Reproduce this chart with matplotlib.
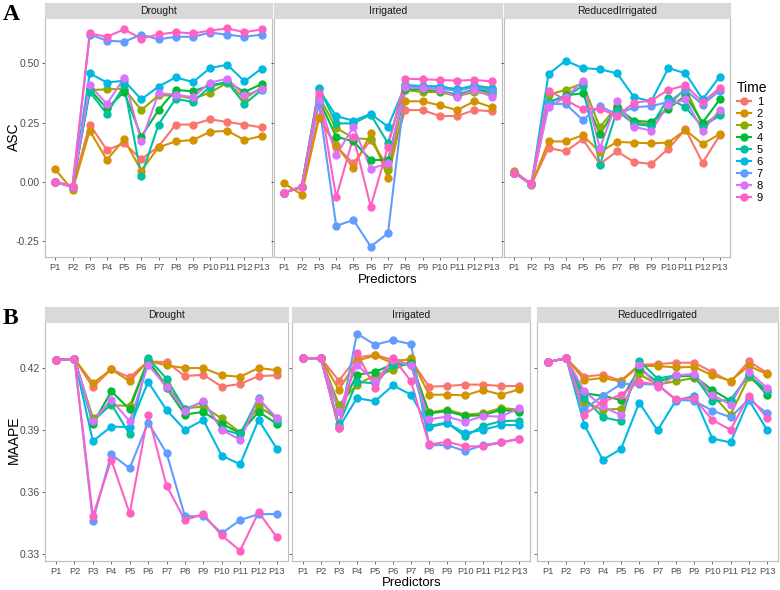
import numpy as np
import matplotlib
matplotlib.use("Agg")
import matplotlib.pyplot as plt
from matplotlib.lines import Line2D

plt.rcParams['font.family'] = ['Liberation Sans', 'DejaVu Sans']

predictors = [f"P{i}" for i in range(1, 14)]
times = ["1", "2", "3", "4", "5", "6", "7", "8", "9"]
facets = ["Drought", "Irrigated", "ReducedIrrigated"]
colors = ["#F8766D", "#D39200", "#93AA00", "#00BA38", "#00C19F",
          "#00B9E3", "#619CFF", "#DB72FB", "#FF61C3"]

# ASC values, rows = Time 1..9, columns = P1..P13
asc_drought = [
    [0.00, -0.02, 0.242, 0.135, 0.163, 0.096, 0.149, 0.242, 0.242, 0.264, 0.253, 0.242, 0.230],
    [0.053, -0.034, 0.216, 0.093, 0.180, 0.048, 0.146, 0.171, 0.177, 0.211, 0.216, 0.177, 0.194],
    [0.00, -0.02, 0.388, 0.390, 0.393, 0.303, 0.365, 0.365, 0.351, 0.376, 0.419, 0.351, 0.399],
    [0.00, -0.02, 0.390, 0.310, 0.379, 0.191, 0.303, 0.388, 0.382, 0.407, 0.421, 0.379, 0.413],
    [0.00, -0.02, 0.380, 0.287, 0.407, 0.025, 0.242, 0.351, 0.337, 0.402, 0.421, 0.329, 0.388],
    [0.00, -0.02, 0.458, 0.419, 0.427, 0.348, 0.402, 0.441, 0.421, 0.480, 0.494, 0.424, 0.478],
    [0.00, -0.02, 0.621, 0.596, 0.591, 0.621, 0.601, 0.612, 0.612, 0.629, 0.621, 0.612, 0.621],
    [0.00, -0.02, 0.407, 0.329, 0.438, 0.171, 0.374, 0.368, 0.357, 0.419, 0.435, 0.365, 0.390],
    [0.00, -0.015, 0.626, 0.612, 0.643, 0.604, 0.622, 0.631, 0.626, 0.638, 0.647, 0.631, 0.643],
]
asc_irrigated = [
    [-0.045, -0.02, 0.275, 0.149, 0.079, 0.177, 0.065, 0.303, 0.303, 0.278, 0.278, 0.303, 0.298],
    [-0.006, -0.053, 0.268, 0.154, 0.059, 0.205, 0.017, 0.340, 0.340, 0.323, 0.303, 0.340, 0.315],
    [-0.045, -0.02, 0.360, 0.228, 0.185, 0.180, 0.051, 0.388, 0.379, 0.379, 0.362, 0.379, 0.371],
    [-0.045, -0.02, 0.346, 0.191, 0.171, 0.093, 0.093, 0.390, 0.390, 0.385, 0.368, 0.390, 0.379],
    [-0.045, -0.02, 0.396, 0.247, 0.247, 0.284, 0.163, 0.407, 0.404, 0.402, 0.390, 0.407, 0.396],
    [-0.045, -0.02, 0.390, 0.278, 0.258, 0.287, 0.233, 0.407, 0.404, 0.402, 0.390, 0.404, 0.390],
    [-0.045, -0.02, 0.331, -0.185, -0.160, -0.272, -0.216, 0.399, 0.396, 0.393, 0.385, 0.399, 0.385],
    [-0.045, -0.02, 0.346, 0.112, 0.233, 0.056, 0.079, 0.399, 0.396, 0.388, 0.360, 0.388, 0.360],
    [-0.045, -0.02, 0.374, -0.065, 0.191, -0.104, 0.149, 0.435, 0.433, 0.430, 0.427, 0.430, 0.424],
]
asc_reduced = [
    [0.040, -0.010, 0.143, 0.129, 0.180, 0.076, 0.129, 0.084, 0.076, 0.140, 0.222, 0.081, 0.197],
    [0.048, -0.014, 0.171, 0.171, 0.197, 0.126, 0.169, 0.166, 0.163, 0.166, 0.219, 0.160, 0.202],
    [0.040, -0.010, 0.368, 0.388, 0.416, 0.230, 0.320, 0.250, 0.242, 0.320, 0.396, 0.239, 0.289],
    [0.040, -0.010, 0.334, 0.365, 0.374, 0.202, 0.315, 0.258, 0.253, 0.309, 0.365, 0.250, 0.348],
    [0.040, -0.010, 0.338, 0.360, 0.404, 0.073, 0.301, 0.244, 0.236, 0.354, 0.315, 0.233, 0.281],
    [0.040, -0.010, 0.455, 0.511, 0.480, 0.475, 0.458, 0.357, 0.340, 0.480, 0.458, 0.348, 0.444],
    [0.040, -0.010, 0.329, 0.329, 0.261, 0.320, 0.284, 0.315, 0.320, 0.337, 0.388, 0.326, 0.385],
    [0.040, -0.010, 0.317, 0.357, 0.424, 0.143, 0.340, 0.233, 0.216, 0.326, 0.348, 0.216, 0.303],
    [0.039, -0.005, 0.385, 0.346, 0.306, 0.309, 0.278, 0.334, 0.343, 0.388, 0.407, 0.337, 0.396],
]

# MAAPE values
maape_drought = [
    [0.4239, 0.4245, 0.4107, 0.4194, 0.4155, 0.4232, 0.4229, 0.4161, 0.4168, 0.4110, 0.4123, 0.4161, 0.4165],
    [0.4239, 0.4245, 0.4126, 0.4194, 0.4136, 0.4235, 0.4213, 0.4200, 0.4200, 0.4165, 0.4158, 0.4200, 0.4190],
    [0.4239, 0.4245, 0.3959, 0.4020, 0.4017, 0.4235, 0.4116, 0.4004, 0.4014, 0.3956, 0.3888, 0.4014, 0.3956],
    [0.4239, 0.4245, 0.3930, 0.4087, 0.4001, 0.4239, 0.4104, 0.3975, 0.3988, 0.3930, 0.3885, 0.3988, 0.3930],
    [0.4239, 0.4245, 0.3943, 0.4026, 0.3879, 0.4248, 0.4149, 0.4001, 0.4036, 0.3904, 0.3879, 0.4055, 0.3946],
    [0.4239, 0.4245, 0.3846, 0.3917, 0.3914, 0.4133, 0.3997, 0.3901, 0.3949, 0.3776, 0.3734, 0.3949, 0.3808],
    [0.4239, 0.4245, 0.3461, 0.3782, 0.3715, 0.3936, 0.3789, 0.3483, 0.3483, 0.3400, 0.3464, 0.3493, 0.3493],
    [0.4239, 0.4245, 0.3946, 0.4046, 0.3943, 0.4216, 0.4110, 0.3994, 0.4042, 0.3901, 0.3853, 0.4049, 0.3959],
    [0.4239, 0.4245, 0.3483, 0.3756, 0.3496, 0.3975, 0.3631, 0.3464, 0.3493, 0.3390, 0.3316, 0.3502, 0.3380],
]
maape_irrigated = [
    [0.4248, 0.4248, 0.4139, 0.4251, 0.4264, 0.4239, 0.4239, 0.4110, 0.4113, 0.4120, 0.4120, 0.4113, 0.4113],
    [0.4248, 0.4248, 0.4094, 0.4235, 0.4261, 0.4223, 0.4248, 0.4071, 0.4071, 0.4068, 0.4094, 0.4071, 0.4097],
    [0.4248, 0.4248, 0.4023, 0.4120, 0.4165, 0.4190, 0.4232, 0.3985, 0.3998, 0.3975, 0.3981, 0.4007, 0.3998],
    [0.4248, 0.4248, 0.3991, 0.4168, 0.4181, 0.4219, 0.4223, 0.3981, 0.3991, 0.3968, 0.3972, 0.3998, 0.3988],
    [0.4248, 0.4248, 0.3927, 0.4133, 0.4126, 0.4216, 0.4216, 0.3920, 0.3936, 0.3869, 0.3920, 0.3943, 0.3946],
    [0.4248, 0.4248, 0.3911, 0.4055, 0.4039, 0.4116, 0.4071, 0.3914, 0.3933, 0.3885, 0.3901, 0.3924, 0.3924],
    [0.4248, 0.4248, 0.3917, 0.4367, 0.4313, 0.4335, 0.4316, 0.3827, 0.3827, 0.3798, 0.3827, 0.3840, 0.3856],
    [0.4248, 0.4248, 0.3994, 0.4216, 0.4136, 0.4239, 0.4213, 0.3952, 0.3965, 0.3940, 0.3968, 0.3965, 0.4007],
    [0.4248, 0.4248, 0.3908, 0.4274, 0.4104, 0.4251, 0.4136, 0.3830, 0.3843, 0.3821, 0.3821, 0.3840, 0.3859],
]
maape_reduced = [
    [0.4229, 0.4248, 0.4158, 0.4168, 0.4139, 0.4216, 0.4219, 0.4226, 0.4226, 0.4181, 0.4133, 0.4232, 0.4177],
    [0.4229, 0.4248, 0.4142, 0.4152, 0.4136, 0.4210, 0.4210, 0.4203, 0.4206, 0.4165, 0.4139, 0.4210, 0.4171],
    [0.4229, 0.4248, 0.4036, 0.3997, 0.4004, 0.4171, 0.4120, 0.4136, 0.4152, 0.4071, 0.3975, 0.4155, 0.4091],
    [0.4229, 0.4248, 0.4078, 0.4065, 0.4046, 0.4197, 0.4133, 0.4161, 0.4161, 0.4094, 0.4042, 0.4168, 0.4071],
    [0.4229, 0.4248, 0.4055, 0.3962, 0.3943, 0.4235, 0.4149, 0.4165, 0.4165, 0.4039, 0.4046, 0.4165, 0.4091],
    [0.4229, 0.4248, 0.3924, 0.3756, 0.3808, 0.4033, 0.3898, 0.4042, 0.4065, 0.3859, 0.3840, 0.4046, 0.3901],
    [0.4229, 0.4248, 0.4001, 0.4065, 0.4123, 0.4123, 0.4120, 0.4046, 0.4042, 0.3994, 0.3962, 0.4049, 0.3981],
    [0.4229, 0.4248, 0.4087, 0.4014, 0.3972, 0.4216, 0.4107, 0.4165, 0.4171, 0.4071, 0.4023, 0.4181, 0.4104],
    [0.4229, 0.4248, 0.3975, 0.4036, 0.4071, 0.4133, 0.4120, 0.4049, 0.4055, 0.3949, 0.3901, 0.4065, 0.3959],
]

asc_ticks = [-0.25, 0.00, 0.25, 0.50]
maape_ticks = [0.33, 0.36, 0.39, 0.42]

W, H = 780, 590
fig = plt.figure(figsize=(W / 100, H / 100), dpi=100)


def px_axes(x0, y0, x1, y1):
    # pixel box (top-left origin) -> figure axes
    return fig.add_axes([x0 / W, 1 - y1 / H, (x1 - x0) / W, (y1 - y0) / H])


def draw_facet(box, strip_h, title, data, ylim, yticks, fmt, show_y):
    x0, y0, x1, y1 = box
    ax = px_axes(x0, y0 + strip_h, x1, y1)
    st = px_axes(x0, y0, x1, y0 + strip_h)
    st.set_facecolor("#D9D9D9")
    st.set_xticks([])
    st.set_yticks([])
    for s in st.spines.values():
        s.set_color("#D9D9D9")
    st.text(0.5, 0.45, title, ha="center", va="center", fontsize=7.5, color="#1A1A1A")

    x = np.arange(1, 14)
    for i, row in enumerate(data):
        ax.plot(x, row, color=colors[i], lw=1.5, zorder=2 + i * 0.01)
    for i, row in enumerate(data):
        ax.plot(x, row, "o", color=colors[i], ms=5, zorder=3 + i * 0.01)
    ax.set_xlim(0.4, 13.6)
    ax.set_ylim(*ylim)
    ax.set_xticks(x)
    ax.set_xticklabels(predictors, fontsize=6.7, color="#4D4D4D")
    ax.set_yticks(yticks)
    if show_y:
        ax.set_yticklabels([fmt.format(v) for v in yticks], fontsize=7.5, color="#4D4D4D")
    else:
        ax.set_yticklabels([])
        ax.tick_params(axis="y", length=0)
    ax.tick_params(axis="both", length=2.5, width=0.6, color="#4D4D4D", pad=1.5)
    for s in ax.spines.values():
        s.set_color("#BDBDBD")
        s.set_linewidth(0.8)
    return ax


asc_sets = [asc_drought, asc_irrigated, asc_reduced]
maape_sets = [maape_drought, maape_irrigated, maape_reduced]

boxes_a = [(45, 3, 272, 257), (274, 3, 502, 257), (504, 3, 730, 257)]
boxes_b = [(45, 307, 288, 561), (292, 307, 530, 561), (537, 307, 778, 561)]

for k in range(3):
    draw_facet(boxes_a[k], 15, facets[k], asc_sets[k], (-0.316, 0.691),
               asc_ticks, "{:.2f}", k == 0)
    draw_facet(boxes_b[k], 15, facets[k], maape_sets[k], (0.3266, 0.4423),
               maape_ticks, "{:.2f}", k == 0)

fig.text(388 / W, 1 - 280 / H, "Predictors", ha="center", va="center", fontsize=9.5)
fig.text(412 / W, 1 - 583 / H, "Predictors", ha="center", va="center", fontsize=9.5)
fig.text(14 / W, 1 - 137 / H, "ASC", ha="center", va="center", rotation=90, fontsize=10)
fig.text(14 / W, 1 - 440 / H, "MAAPE", ha="center", va="center", rotation=90, fontsize=10)
fig.text(3 / W, 1 - 14 / H, "A", ha="left", va="center", fontsize=17, fontweight="bold",
         family="Liberation Serif")
fig.text(3 / W, 1 - 318 / H, "B", ha="left", va="center", fontsize=17, fontweight="bold",
         family="Liberation Serif")

handles = [Line2D([], [], color=c, lw=1.5, marker="o", ms=5) for c in colors]
leg = fig.legend(handles, times, title="Time", loc="upper left",
                 bbox_to_anchor=(729 / W, 1 - 73 / H), frameon=False,
                 fontsize=8, title_fontsize=10, handlelength=1.3,
                 handletextpad=0.5, labelspacing=0.18, borderpad=0.2)
leg._legend_box.align = "left"

fig.savefig("out.png", dpi=100)
